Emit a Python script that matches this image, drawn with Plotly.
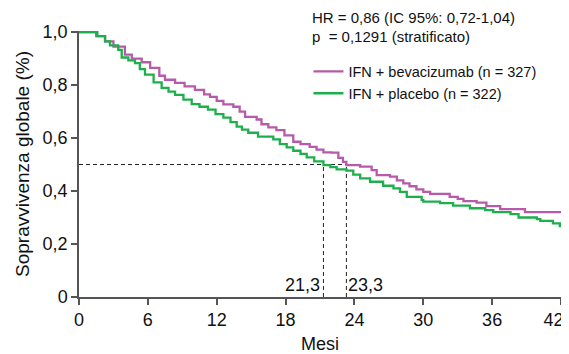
import plotly.graph_objects as go

# Data (months, overall survival fraction)
bev_months = [0, 0.96, 1.5, 2.27, 3.0, 4.0, 4.6, 5.46, 6.2, 7.0, 7.49, 8.37, 9.2, 10.1, 10.9, 11.42,
              12.0, 12.58, 13.45, 14.0, 14.47, 15.48, 15.9, 16.5, 17.2, 17.9, 18.67, 19.3, 20.1, 20.7,
              21.3, 22.0, 22.6, 23.0, 23.3, 24.5, 25.5, 25.94, 27.1, 27.7, 28.26, 28.8, 29.4, 30.0,
              30.6, 32.3, 33.0, 33.5, 34.65, 35.5, 36.7, 38.86, 42.0]
bev_surv = [1.0, 1.0, 0.985, 0.965, 0.945, 0.915, 0.90, 0.886, 0.865, 0.835, 0.82, 0.808, 0.795, 0.782,
            0.765, 0.755, 0.74, 0.727, 0.718, 0.70, 0.68, 0.67, 0.652, 0.64, 0.63, 0.61, 0.586, 0.577,
            0.567, 0.556, 0.546, 0.545, 0.525, 0.51, 0.498, 0.492, 0.479, 0.46, 0.454, 0.44, 0.429,
            0.418, 0.406, 0.397, 0.389, 0.378, 0.37, 0.362, 0.356, 0.343, 0.332, 0.32, 0.32]

pla_months = [0, 0.96, 1.6, 2.27, 2.7, 3.42, 3.72, 4.3, 4.88, 5.3, 5.75, 6.5, 7.2, 7.8, 8.37, 9.1, 9.82,
              10.5, 11.24, 11.9, 12.58, 13.2, 13.74, 14.2, 14.75, 15.6, 16.93, 17.5, 18.1, 18.67, 19.3,
              19.84, 20.5, 21.3, 21.9, 22.45, 23.3, 23.9, 24.5, 25.36, 26.5, 27.4, 27.97, 28.56, 29.86,
              30.0, 31.46, 32.6, 34.07, 35.4, 36.1, 37.6, 38.3, 39.9, 40.2, 41.3, 41.9, 42.0]
pla_surv = [1.0, 1.0, 0.985, 0.965, 0.95, 0.933, 0.904, 0.893, 0.883, 0.86, 0.839, 0.81, 0.789, 0.775,
            0.763, 0.745, 0.728, 0.718, 0.707, 0.69, 0.677, 0.66, 0.643, 0.632, 0.62, 0.605, 0.595,
            0.577, 0.565, 0.552, 0.54, 0.527, 0.512, 0.498, 0.49, 0.482, 0.477, 0.462, 0.448, 0.435,
            0.42, 0.41, 0.397, 0.378, 0.366, 0.36, 0.354, 0.345, 0.335, 0.328, 0.32, 0.313, 0.30,
            0.294, 0.287, 0.278, 0.268, 0.268]

median_bev = 23.3
median_pla = 21.3
median_labels = ["21,3", "23,3"]

x_ticks = [0, 6, 12, 18, 24, 30, 36, 42]
# last label padded so it stays inside the page edge, as in the reference
x_ticklabels = ["0", "6", "12", "18", "24", "30", "36", "42\u00a0\u00a0\u00a0"]
y_ticks = [0, 0.2, 0.4, 0.6, 0.8, 1.0]
y_ticklabels = ["0", "0,2", "0,4", "0,6", "0,8", "1,0"]

series_names = ["IFN + bevacizumab (n = 327)", "IFN + placebo (n = 322)"]
stats_lines = ["HR = 0,86 (IC 95%: 0,72-1,04)", "p  = 0,1291 (stratificato)"]

PURPLE = "#b65aa9"
GREEN = "#1eae4c"
AXIS = "#555555"
FONT = "Liberation Sans, Arial, sans-serif"
TXT = "#111111"

fig = go.Figure()

# Median reference lines (dashed)
fig.add_trace(go.Scatter(x=[0, median_bev], y=[0.5, 0.5], mode="lines",
                         line=dict(color="#222222", width=1, dash="4px,3px"),
                         showlegend=False, hoverinfo="skip"))
for m in [median_pla, median_bev]:
    fig.add_trace(go.Scatter(x=[m, m], y=[0, 0.5], mode="lines",
                             line=dict(color="#222222", width=1, dash="4px,3px"),
                             showlegend=False, hoverinfo="skip"))

fig.add_trace(go.Scatter(x=bev_months, y=bev_surv, mode="lines", name=series_names[0],
                         line=dict(color=PURPLE, width=2.3, shape="hv")))
fig.add_trace(go.Scatter(x=pla_months, y=pla_surv, mode="lines", name=series_names[1],
                         line=dict(color=GREEN, width=2.3, shape="hv")))

fig.add_annotation(x=median_pla, y=0, xref="x", yref="y", text=median_labels[0],
                   showarrow=False, xanchor="right", yanchor="bottom", xshift=-1, yshift=0,
                   font=dict(size=18, color=TXT, family=FONT))
fig.add_annotation(x=median_bev, y=0, xref="x", yref="y", text=median_labels[1],
                   showarrow=False, xanchor="left", yanchor="bottom", xshift=0, yshift=0,
                   font=dict(size=18, color=TXT, family=FONT))

fig.add_annotation(x=0.479, y=1.052, xref="paper", yref="paper", text=stats_lines[0],
                   showarrow=False, xanchor="left", yanchor="middle",
                   font=dict(size=15, color=TXT, family=FONT))
fig.add_annotation(x=0.479, y=0.981, xref="paper", yref="paper", text=stats_lines[1],
                   showarrow=False, xanchor="left", yanchor="middle",
                   font=dict(size=15, color=TXT, family=FONT))

# The page body adds an 8px margin, so the figure is sized/offset to compensate.
fig.update_layout(
    width=561, height=346,
    margin=dict(l=71, r=8, t=23, b=57),
    plot_bgcolor="white", paper_bgcolor="white",
    font=dict(family=FONT, color=TXT),
    legend=dict(x=0.476, y=0.908, xanchor="left", yanchor="top",
                font=dict(size=14.5, family=FONT, color=TXT),
                bgcolor="rgba(0,0,0,0)", itemwidth=30, tracegroupgap=0),
    xaxis=dict(range=[0, 42], tickvals=x_ticks, ticktext=x_ticklabels,
               automargin=False, ticklabeloverflow="allow",
               showgrid=False, zeroline=False, showline=True, linecolor=AXIS, linewidth=1.5,
               ticks="outside", ticklen=6, tickcolor=AXIS, tickwidth=1.5,
               tickfont=dict(size=18, family=FONT, color=TXT),
               title=dict(text="Mesi", font=dict(size=18, family=FONT, color=TXT))),
    yaxis=dict(range=[0, 1.004], tickvals=y_ticks, ticktext=y_ticklabels,
               automargin=False,
               showgrid=False, zeroline=False, showline=True, linecolor=AXIS, linewidth=1.5,
               ticks="outside", ticklen=6, tickcolor=AXIS, tickwidth=1.5,
               tickfont=dict(size=18, family=FONT, color=TXT),
               title=dict(text="Sopravvivenza globale (%)", font=dict(size=19, family=FONT, color=TXT),
                          standoff=8)),
)

fig.write_html("out.html")
